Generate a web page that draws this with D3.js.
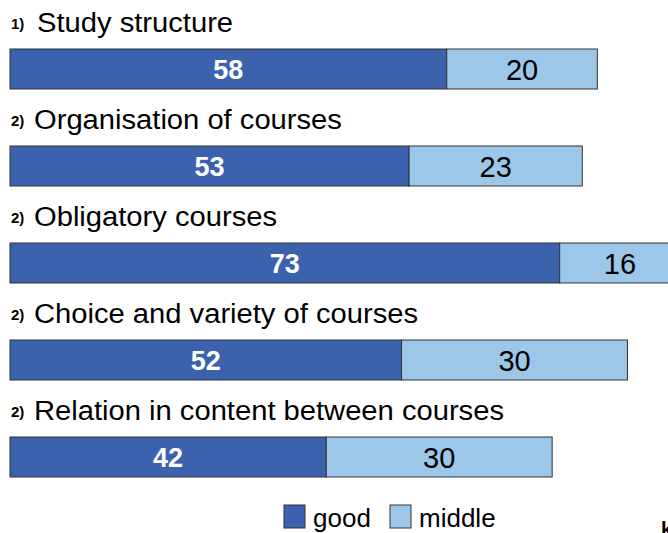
<!DOCTYPE html>
<html>
<head>
<meta charset="utf-8">
<script src="https://cdn.jsdelivr.net/npm/d3@7"></script>
<style>
  body { margin: 0; background: #fff; overflow: hidden; }
  text { font-family: "Liberation Sans", Arial, sans-serif; }
</style>
</head>
<body>
<div id="chart"></div>
<script>
var categories = ["Study structure", "Organisation of courses", "Obligatory courses",
                  "Choice and variety of courses", "Relation in content between courses"];
var notes = ["1)", "2)", "2)", "2)", "2)"];
var good = [58, 53, 73, 52, 42];
var middle = [20, 23, 16, 30, 30];
var seriesNames = ["good", "middle"];

var width = 668,
    height = 533;

var colors = {good: "#3c62ae", middle: "#9dc7e9"};

var svg = d3.select("#chart")
  .append("svg")
  .attr("width", width)
  .attr("height", height);

var x = d3.scaleLinear().domain([0, 100]).range([10, 763]);

// each row: title on top, bar below
var y = d3.scaleLinear().domain([0, 4]).range([49, 437]);
var barH = 40;

var rows = categories.map(function(c, i) {
  return {name: c, note: notes[i], good: good[i], middle: middle[i], i: i};
});

var row = svg.selectAll(".row")
  .data(rows)
  .enter().append("g")
  .attr("class", "row")
  .attr("transform", function(d) { return "translate(0," + y(d.i) + ")"; });

row.append("text")
  .attr("x", 11)
  .attr("y", -20)
  .attr("font-size", 15)
  .attr("font-weight", "bold")
  .text(function(d) { return d.note; });

// titles are a bit wide in the original, stretch them
row.append("text")
  .attr("transform", function(d) {
    return "translate(" + (d.i === 0 ? 37 : 34) + ",-17) scale(1.08,1)";
  })
  .attr("font-size", 27)
  .text(function(d) { return d.name; });

row.append("rect")
  .attr("x", x(0))
  .attr("y", 0)
  .attr("width", function(d) { return x(d.good) - x(0); })
  .attr("height", barH)
  .attr("fill", colors.good)
  .attr("stroke", "#333")
  .attr("stroke-width", 1);

row.append("rect")
  .attr("x", function(d) { return x(d.good); })
  .attr("y", 0)
  .attr("width", function(d) { return x(d.good + d.middle) - x(d.good); })
  .attr("height", barH)
  .attr("fill", colors.middle)
  .attr("stroke", "#333")
  .attr("stroke-width", 1);

row.append("text")
  .attr("x", function(d) { return (x(0) + x(d.good)) / 2; })
  .attr("y", barH / 2 + 10)
  .attr("text-anchor", "middle")
  .attr("font-size", 27)
  .attr("font-weight", "bold")
  .attr("font-family", "'Liberation Sans Narrow', 'Liberation Sans', sans-serif")
  .attr("fill", "#fff")
  .text(function(d) { return d.good; });

row.append("text")
  .attr("x", function(d) { return (x(d.good) + x(d.good + d.middle)) / 2; })
  .attr("y", barH / 2 + 11)
  .attr("text-anchor", "middle")
  .attr("font-size", 29)
  .attr("font-family", "'Liberation Sans Narrow', 'Liberation Sans', sans-serif")
  .attr("fill", "#000")
  .text(function(d) { return d.middle; });

// legend
var legend = svg.selectAll(".legend")
  .data(seriesNames)
  .enter().append("g")
  .attr("class", "legend")
  .attr("transform", function(d, i) { return "translate(" + (284 + i * 106) + ",505)"; });

legend.append("rect")
  .attr("width", 21)
  .attr("height", 23)
  .attr("fill", function(d) { return colors[d]; })
  .attr("stroke", "#333");

legend.append("text")
  .attr("x", 29)
  .attr("y", 22)
  .attr("font-size", 26)
  .text(function(d) { return d; });

svg.append("text")
  .attr("x", 661)
  .attr("y", 536)
  .attr("font-size", 20)
  .attr("font-weight", "bold")
  .text("k");
</script>
</body>
</html>
